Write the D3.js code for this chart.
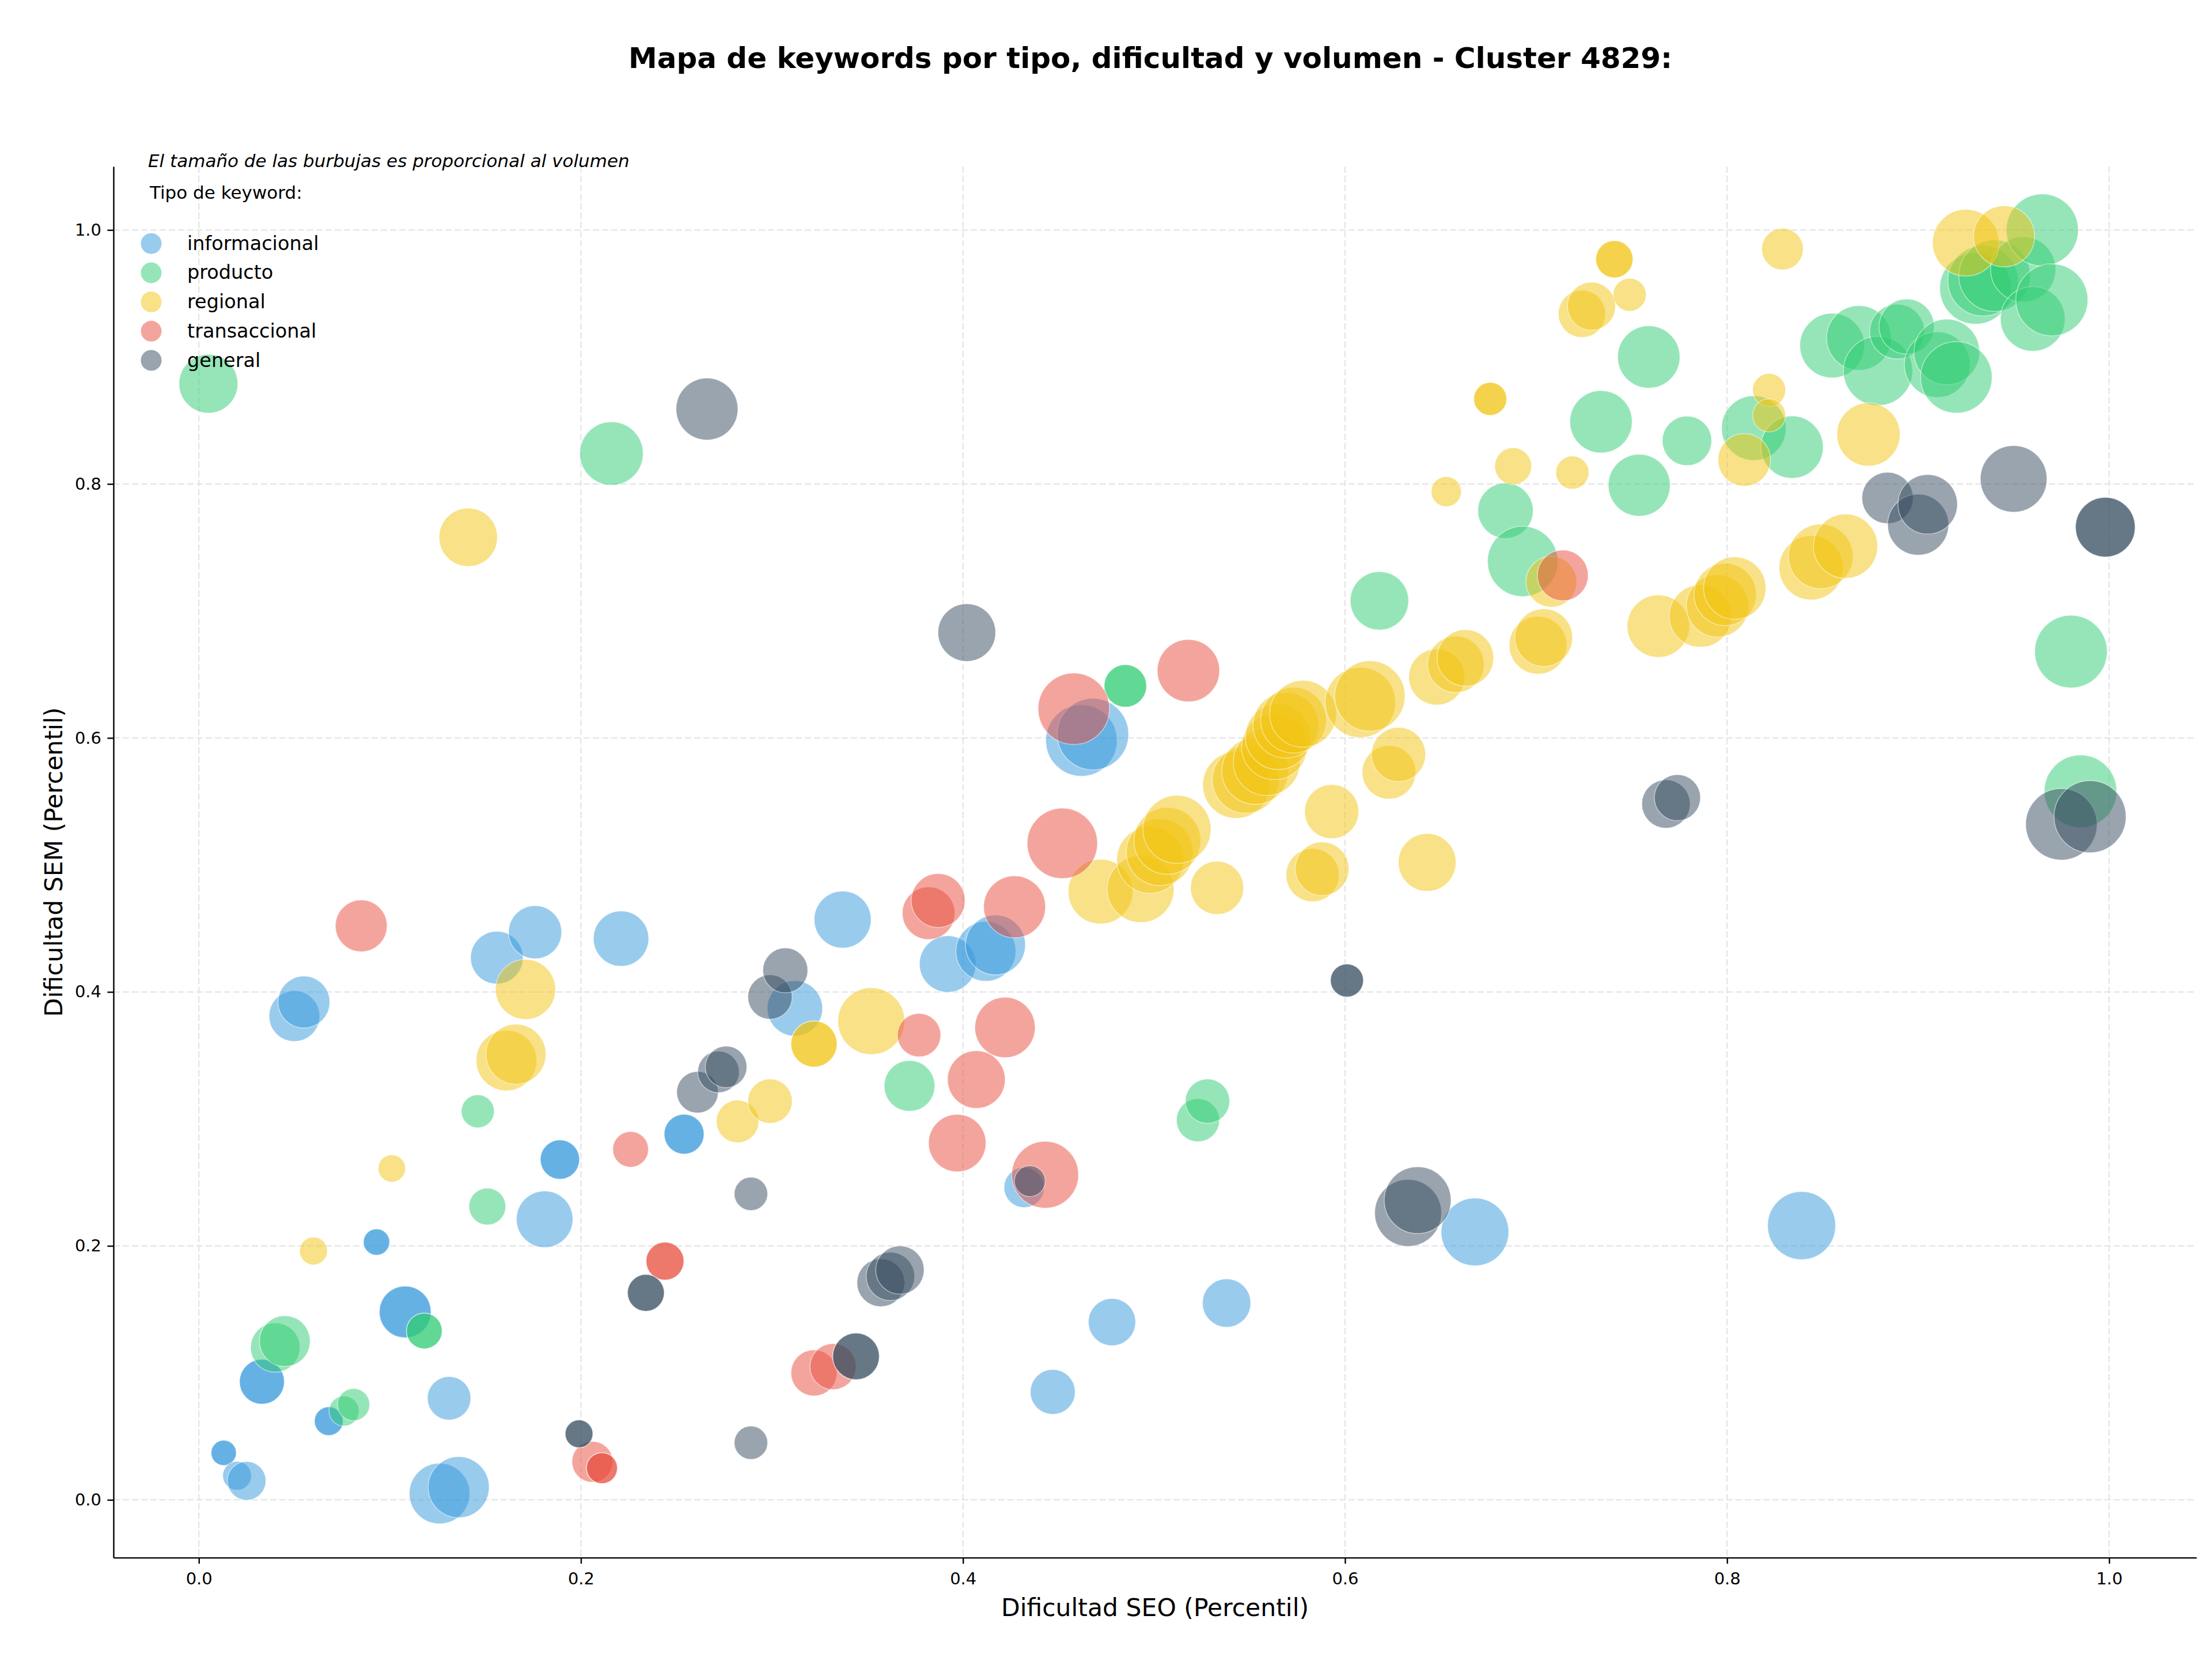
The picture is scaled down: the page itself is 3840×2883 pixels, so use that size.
<!DOCTYPE html>
<meta charset="utf-8">
<style>
    body { margin: 0; background: #fff; }
    text { font-family: "DejaVu Sans", sans-serif; fill: #000; }
    .axis path, .axis line { stroke: #000; stroke-width: 2.4; }
    .axis text { font-size: 29px; }
    .grid line { stroke: #e2e2e2; stroke-width: 2; stroke-dasharray: 11 5; }
</style>
<body>
<script src="https://d3js.org/d3.v7.min.js"></script>
<script>

// keyword types (legend order = draw order)
var tipos = ["informacional", "producto", "regional", "transaccional", "general"];
var colores = ["#3498db", "#2ecc71", "#f1c40f", "#e74c3c", "#34495e"];

// [dificultad SEO, dificultad SEM, volumen]
var informacional = [
    [0.013, 0.037, 240], [0.013, 0.037, 240], [0.020, 0.019, 310], [0.025, 0.015, 560],
    [0.033, 0.093, 760], [0.033, 0.093, 760], [0.050, 0.381, 970], [0.055, 0.392, 1010],
    [0.068, 0.062, 310], [0.068, 0.062, 310], [0.093, 0.203, 260], [0.093, 0.203, 260],
    [0.108, 0.148, 1010], [0.108, 0.148, 1010], [0.126, 0.005, 1380], [0.131, 0.080, 710],
    [0.136, 0.010, 1400], [0.156, 0.427, 1040], [0.176, 0.447, 1060], [0.181, 0.221, 1200],
    [0.189, 0.268, 580], [0.189, 0.268, 580], [0.221, 0.442, 1150], [0.254, 0.288, 600],
    [0.254, 0.288, 600], [0.312, 0.387, 1150], [0.337, 0.457, 1220], [0.392, 0.422, 1200],
    [0.412, 0.432, 1350], [0.417, 0.437, 1350], [0.432, 0.246, 610], [0.447, 0.085, 760],
    [0.462, 0.598, 1920], [0.468, 0.603, 1920], [0.478, 0.140, 840], [0.538, 0.155, 880],
    [0.668, 0.211, 1720], [0.839, 0.216, 1740]
];

var producto = [
    [0.005, 0.879, 1300], [0.040, 0.120, 920], [0.045, 0.125, 970], [0.076, 0.070, 340],
    [0.081, 0.075, 390], [0.118, 0.133, 480], [0.118, 0.133, 480], [0.146, 0.306, 410],
    [0.151, 0.231, 510], [0.216, 0.824, 1510], [0.372, 0.326, 970], [0.485, 0.641, 680],
    [0.485, 0.641, 680], [0.523, 0.299, 700], [0.528, 0.314, 740], [0.618, 0.708, 1280],
    [0.684, 0.779, 1150], [0.693, 0.739, 1860], [0.734, 0.849, 1460], [0.754, 0.799, 1440],
    [0.759, 0.900, 1460], [0.779, 0.834, 920], [0.814, 0.844, 1570], [0.834, 0.829, 1460],
    [0.855, 0.909, 1570], [0.869, 0.915, 1570], [0.879, 0.889, 1800], [0.889, 0.920, 1130],
    [0.894, 0.924, 1140], [0.910, 0.894, 1620], [0.915, 0.904, 1620], [0.920, 0.884, 1920],
    [0.930, 0.954, 1920], [0.934, 0.960, 1860], [0.940, 0.964, 1920], [0.955, 0.969, 1600],
    [0.960, 0.930, 1570], [0.965, 1.000, 1950], [0.970, 0.945, 1950], [0.980, 0.668, 1980],
    [0.985, 0.558, 1980]
];

var regional = [
    [0.060, 0.196, 290], [0.101, 0.261, 280], [0.141, 0.758, 1280], [0.161, 0.346, 1380],
    [0.166, 0.351, 1350], [0.171, 0.402, 1350], [0.282, 0.298, 680], [0.299, 0.314, 740],
    [0.322, 0.359, 800], [0.322, 0.359, 800], [0.352, 0.377, 1680], [0.472, 0.479, 1570],
    [0.493, 0.481, 1680], [0.498, 0.504, 1680], [0.503, 0.510, 1680], [0.507, 0.519, 1680],
    [0.512, 0.528, 1740], [0.533, 0.482, 1060], [0.543, 0.563, 1680], [0.548, 0.567, 1680],
    [0.553, 0.574, 1680], [0.559, 0.581, 1680], [0.563, 0.593, 1620], [0.565, 0.601, 1620],
    [0.569, 0.610, 1620], [0.573, 0.614, 1620], [0.578, 0.619, 1680], [0.583, 0.492, 1060],
    [0.588, 0.497, 1080], [0.593, 0.542, 1100], [0.608, 0.628, 1860], [0.613, 0.633, 1860],
    [0.623, 0.573, 1080], [0.628, 0.587, 1100], [0.643, 0.502, 1250], [0.648, 0.648, 1180],
    [0.653, 0.794, 340], [0.658, 0.658, 1200], [0.663, 0.663, 1200], [0.676, 0.867, 410],
    [0.676, 0.867, 410], [0.688, 0.814, 510], [0.701, 0.673, 1250], [0.704, 0.679, 1250],
    [0.708, 0.723, 970], [0.719, 0.809, 410], [0.724, 0.934, 840], [0.729, 0.940, 870],
    [0.741, 0.977, 520], [0.741, 0.977, 520], [0.749, 0.949, 410], [0.764, 0.688, 1460],
    [0.786, 0.696, 1460], [0.795, 0.704, 1460], [0.799, 0.713, 1460], [0.804, 0.718, 1460],
    [0.809, 0.819, 1040], [0.822, 0.874, 410], [0.822, 0.854, 410], [0.829, 0.985, 650],
    [0.844, 0.734, 1550], [0.849, 0.743, 1570], [0.862, 0.751, 1550], [0.874, 0.839, 1500],
    [0.925, 0.990, 1670], [0.945, 0.995, 1400]
];

var transaccional = [
    [0.085, 0.452, 1010], [0.206, 0.030, 630], [0.211, 0.025, 360], [0.211, 0.025, 360],
    [0.226, 0.276, 480], [0.244, 0.188, 540], [0.244, 0.188, 540], [0.322, 0.100, 800],
    [0.332, 0.105, 800], [0.377, 0.366, 710], [0.382, 0.462, 1040], [0.387, 0.472, 1090],
    [0.397, 0.281, 1240], [0.407, 0.331, 1250], [0.422, 0.372, 1370], [0.427, 0.467, 1440],
    [0.443, 0.256, 1680], [0.452, 0.517, 1860], [0.458, 0.623, 1920], [0.518, 0.653, 1460],
    [0.714, 0.728, 970]
];

var general = [
    [0.199, 0.052, 290], [0.199, 0.052, 290], [0.234, 0.163, 510], [0.234, 0.163, 510],
    [0.261, 0.321, 650], [0.266, 0.859, 1440], [0.272, 0.337, 650], [0.276, 0.341, 650],
    [0.289, 0.241, 420], [0.289, 0.045, 420], [0.299, 0.396, 740], [0.307, 0.417, 760],
    [0.344, 0.113, 820], [0.344, 0.113, 820], [0.357, 0.171, 860], [0.362, 0.176, 880],
    [0.367, 0.181, 880], [0.402, 0.683, 1250], [0.435, 0.251, 360], [0.601, 0.409, 410],
    [0.601, 0.409, 410], [0.633, 0.226, 1680], [0.638, 0.236, 1680], [0.768, 0.548, 880],
    [0.774, 0.553, 800], [0.884, 0.789, 990], [0.900, 0.768, 1400], [0.905, 0.784, 1330],
    [0.950, 0.804, 1670], [0.975, 0.532, 1920], [0.998, 0.766, 1340], [0.998, 0.766, 1340],
    [0.990, 0.538, 1950]
];

var series = [informacional, producto, regional, transaccional, general];

var xTicks = [0.0, 0.2, 0.4, 0.6, 0.8, 1.0];
var yTicks = [0.0, 0.2, 0.4, 0.6, 0.8, 1.0];

var W = 3840, H = 2883;
var area = { left: 197, right: 3813, top: 289, bottom: 2703.6 };

var x = d3.scaleLinear().domain([-0.0447, 1.0457]).range([area.left, area.right]);
var y = d3.scaleLinear().domain([-0.0455, 1.050]).range([area.bottom, area.top]);
var r = d3.scaleSqrt().domain([0, 2000]).range([0, Math.sqrt(4000)]);

var svg = d3.select("body").append("svg")
    .attr("width", W)
    .attr("height", H);

svg.append("rect").attr("width", W).attr("height", H).attr("fill", "#fff");

// grid
var grid = svg.append("g").attr("class", "grid");
grid.selectAll(".gx").data(xTicks).enter().append("line")
    .attr("x1", d => x(d)).attr("x2", d => x(d))
    .attr("y1", area.top).attr("y2", area.bottom);
grid.selectAll(".gy").data(yTicks).enter().append("line")
    .attr("x1", area.left).attr("x2", area.right)
    .attr("y1", d => y(d)).attr("y2", d => y(d));

// bubbles
var plot = svg.append("g");
series.forEach(function (data, i) {
    plot.append("g").selectAll("circle")
        .data(data)
        .enter().append("circle")
        .attr("cx", d => x(d[0]))
        .attr("cy", d => y(d[1]))
        .attr("r", d => r(d[2]))
        .attr("fill", colores[i])
        .attr("fill-opacity", 0.5)
        .attr("stroke", "#fff")
        .attr("stroke-opacity", 0.5)
        .attr("stroke-width", 1.5);
});

// axes
svg.append("g")
    .attr("class", "axis")
    .attr("transform", "translate(0," + area.bottom + ")")
    .call(d3.axisBottom(x).tickValues(xTicks).tickFormat(d3.format(".1f"))
        .tickSize(10.5).tickSizeOuter(0).tickPadding(15));

svg.append("g")
    .attr("class", "axis")
    .attr("transform", "translate(" + area.left + ",0)")
    .call(d3.axisLeft(y).tickValues(yTicks).tickFormat(d3.format(".1f"))
        .tickSize(10.5).tickSizeOuter(0).tickPadding(10.5));

svg.selectAll(".axis text").attr("font-family", "DejaVu Sans");

// axis labels
svg.append("text")
    .attr("x", (area.left + area.right) / 2)
    .attr("y", 2805)
    .attr("text-anchor", "middle")
    .attr("font-size", "42.5px")
    .text("Dificultad SEO (Percentil)");

svg.append("text")
    .attr("transform", "translate(108," + ((area.top + area.bottom) / 2) + ") rotate(-90)")
    .attr("text-anchor", "middle")
    .attr("font-size", "42.5px")
    .text("Dificultad SEM (Percentil)");

// title
svg.append("text")
    .attr("x", 1997)
    .attr("y", 118)
    .attr("text-anchor", "middle")
    .attr("font-size", "50px")
    .attr("font-weight", "bold")
    .text("Mapa de keywords por tipo, dificultad y volumen - Cluster 4829:");

// notes
svg.append("text")
    .attr("x", 257)
    .attr("y", 290)
    .attr("font-size", "31px")
    .attr("font-style", "italic")
    .text("El tamaño de las burbujas es proporcional al volumen");

svg.append("text")
    .attr("x", 260)
    .attr("y", 345)
    .attr("font-size", "31px")
    .text("Tipo de keyword:");

// legend
var legend = svg.append("g").selectAll("g")
    .data(tipos)
    .enter().append("g")
    .attr("transform", (d, i) => "translate(262.5," + (422.7 + i * 50.7) + ")");

legend.append("circle")
    .attr("r", 18)
    .attr("fill", (d, i) => colores[i])
    .attr("fill-opacity", 0.5);

legend.append("text")
    .attr("x", 62.5)
    .attr("y", 11)
    .attr("font-size", "33.5px")
    .text(d => d);

</script>
</body>
